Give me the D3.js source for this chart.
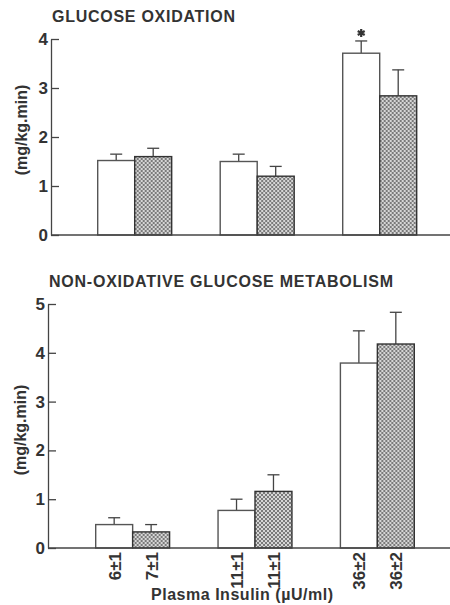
<!DOCTYPE html>
<html>
<head>
<meta charset="utf-8">
<script src="https://cdn.jsdelivr.net/npm/d3@7"></script>
<style>
  html, body { margin: 0; padding: 0; background: #fff; }
  svg { display: block; }
  text { font-family: "Liberation Sans", Arial, Helvetica, sans-serif; fill: #333; }
</style>
</head>
<body>
<svg id="chart" width="450" height="605"></svg>
<script>
// Insulin-level groups and the two conditions compared within each group
const groups = ["low", "mid", "high"];
const conditions = ["control", "treated"];

// Glucose oxidation (mg/kg.min): means and SEM
const oxidationMean = { control: [1.52, 1.50, 3.71], treated: [1.60, 1.20, 2.84] };
const oxidationSem  = { control: [0.13, 0.15, 0.25], treated: [0.17, 0.20, 0.53] };
const oxidationTicks = [0, 1, 2, 3, 4];

// Non-oxidative glucose metabolism (mg/kg.min): means and SEM
const nonOxMean = { control: [0.48, 0.77, 3.79], treated: [0.33, 1.16, 4.18] };
const nonOxSem  = { control: [0.14, 0.23, 0.66], treated: [0.15, 0.34, 0.65] };
const nonOxTicks = [0, 1, 2, 3, 4, 5];

// Plasma insulin (µU/ml) per bar, in group/condition order
const insulinLabels = ["6±1", "7±1", "11±1", "11±1", "36±2", "36±2"];

// Significance marker: [group, condition]
const starred = [["high", "control"]];

const svg = d3.select("#chart");

// Checkerboard fill for the second condition
const defs = svg.append("defs");
const pat = defs.append("pattern")
  .attr("id", "checker").attr("patternUnits", "userSpaceOnUse")
  .attr("width", 4).attr("height", 4);
pat.append("rect").attr("width", 4).attr("height", 4).attr("fill", "#d6d6d6");
pat.append("rect").attr("width", 2).attr("height", 2).attr("fill", "#7a7a7a");
pat.append("rect").attr("x", 2).attr("y", 2).attr("width", 2).attr("height", 2).attr("fill", "#7a7a7a");

const ink = "#444";

function panel(opts) {
  const g = svg.append("g");
  const y = d3.scaleLinear().domain([0, d3.max(opts.ticks)]).range(opts.yRange);
  const x0 = d3.scaleBand().domain(groups).range(opts.xRange).paddingInner(0.396).paddingOuter(0);
  const x1 = d3.scaleBand().domain(conditions).range([0, x0.bandwidth()]);

  // title
  g.append("text")
    .attr("x", opts.titleX).attr("y", opts.titleY)
    .attr("font-size", 16).attr("font-weight", "bold")
    .attr("textLength", opts.titleLen).attr("lengthAdjust", "spacing")
    .text(opts.title);

  // y axis
  const yAxis = d3.axisLeft(y).tickValues(opts.ticks).tickFormat(d3.format("d"))
    .tickSizeInner(-8).tickSizeOuter(0).tickPadding(3);
  const ya = g.append("g").attr("transform", `translate(${opts.axisX},0)`).call(yAxis);
  ya.attr("font-size", 17);
  ya.select(".domain").attr("stroke", ink).attr("stroke-width", 1.3);
  ya.selectAll(".tick line").attr("stroke", ink).attr("stroke-width", 1.3);
  ya.selectAll(".tick text").attr("font-size", 17).attr("font-weight", "bold")
    .attr("font-family", "Liberation Sans, Arial, sans-serif").attr("fill", "#333");

  // y axis label
  g.append("text")
    .attr("transform", `translate(${opts.labelX},${(opts.yRange[0] + opts.yRange[1]) / 2 + opts.labelDy}) rotate(-90)`)
    .attr("text-anchor", "middle").attr("font-size", 16).attr("font-weight", "bold")
    .text("(mg/kg.min)");

  // bars
  const rows = [];
  groups.forEach((gr, i) => conditions.forEach(c => {
    rows.push({ group: gr, cond: c, mean: opts.mean[c][i], sem: opts.sem[c][i] });
  }));

  const bars = g.append("g").selectAll("g").data(rows).join("g")
    .attr("transform", d => `translate(${x0(d.group) + x1(d.cond)},0)`);

  // error bars (upper only)
  const cap = 6;
  bars.append("line")
    .attr("x1", x1.bandwidth() / 2).attr("x2", x1.bandwidth() / 2)
    .attr("y1", d => y(d.mean)).attr("y2", d => y(d.mean + d.sem))
    .attr("stroke", ink).attr("stroke-width", 1.3);
  bars.append("line")
    .attr("x1", x1.bandwidth() / 2 - cap).attr("x2", x1.bandwidth() / 2 + cap)
    .attr("y1", d => y(d.mean + d.sem)).attr("y2", d => y(d.mean + d.sem))
    .attr("stroke", ink).attr("stroke-width", 1.3);

  bars.append("rect")
    .attr("x", 0).attr("width", x1.bandwidth())
    .attr("y", d => y(d.mean)).attr("height", d => y(0) - y(d.mean))
    .attr("fill", d => d.cond === "control" ? "#fff" : "url(#checker)")
    .attr("stroke", d => d.cond === "control" ? "#555" : "#333")
    .attr("stroke-width", 1.4);

  // baseline
  g.append("line")
    .attr("x1", opts.axisX).attr("x2", 450)
    .attr("y1", y(0)).attr("y2", y(0))
    .attr("stroke", ink).attr("stroke-width", 1.3);

  // significance markers
  if (opts.stars) {
    opts.stars.forEach(([gr, c]) => {
      const i = groups.indexOf(gr);
      const top = opts.mean[c][i] + opts.sem[c][i];
      g.append("path")
        .attr("d", d3.symbol(d3.symbolAsterisk, 45)())
        .attr("transform", `translate(${x0(gr) + x1(c) + x1.bandwidth() / 2},${y(top) - 8})`)
        .attr("stroke", "#333").attr("stroke-width", 2.2).attr("fill", "none");
    });
  }

  // insulin labels under the bars
  if (opts.xLabels) {
    const keys = rows.map((d, i) => i);
    const xb = d3.scaleOrdinal().domain(keys)
      .range(rows.map(d => x0(d.group) + x1(d.cond) + x1.bandwidth() / 2));
    const xa = d3.axisBottom(xb).tickValues(keys).tickFormat(i => opts.xLabels[i])
      .tickSize(0).tickPadding(0);
    const xg = g.append("g").attr("transform", `translate(0,${y(0)})`).call(xa);
    xg.attr("font-size", 17);
    xg.select(".domain").remove();
    xg.selectAll(".tick text")
      .attr("transform", "translate(0,4) rotate(-90)")
      .attr("x", 0).attr("y", 0).attr("dy", "0.35em")
      .attr("text-anchor", "end")
      .attr("font-size", 17).attr("font-weight", "bold")
      .attr("font-family", "Liberation Sans, Arial, sans-serif").attr("fill", "#333");

    g.append("text")
      .attr("x", 242).attr("y", 600)
      .attr("text-anchor", "middle").attr("font-size", 16).attr("font-weight", "bold")
      .attr("textLength", 182).attr("lengthAdjust", "spacing")
      .text("Plasma Insulin (µU/ml)");
  }
}

panel({
  title: "GLUCOSE OXIDATION", titleX: 52, titleY: 22, titleLen: 183,
  ticks: oxidationTicks, yRange: [235, 39], xRange: [97.7, 416.7],
  axisX: 51, labelX: 27, labelDy: -7,
  mean: oxidationMean, sem: oxidationSem, stars: starred
});

panel({
  title: "NON-OXIDATIVE GLUCOSE METABOLISM", titleX: 49, titleY: 287, titleLen: 344,
  ticks: nonOxTicks, yRange: [548, 304], xRange: [95.7, 414.3],
  axisX: 48, labelX: 26, labelDy: 4,
  mean: nonOxMean, sem: nonOxSem, xLabels: insulinLabels
});
</script>
</body>
</html>
